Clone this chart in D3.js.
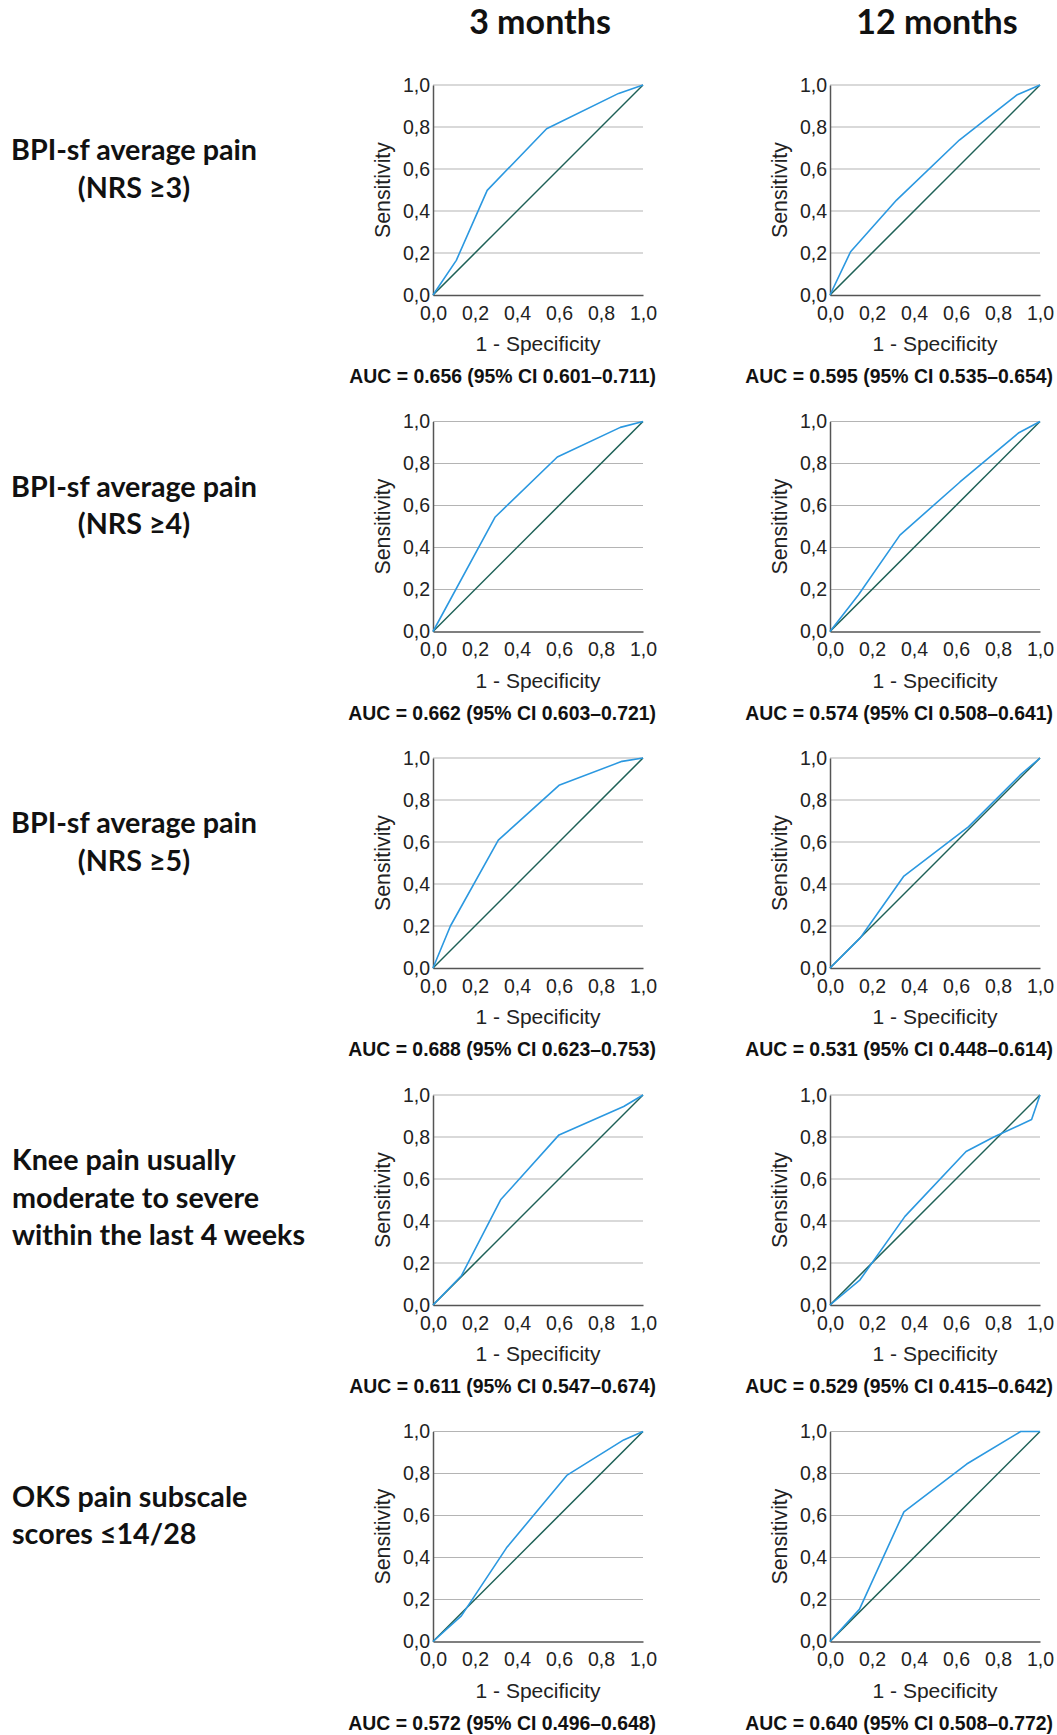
<!DOCTYPE html>
<html>
<head>
<meta charset="utf-8">
<script src="https://cdn.jsdelivr.net/npm/d3@7"></script>
<style>
  body { margin: 0; background: #fff; }
</style>
</head>
<body>
<div class="chart-container"></div>
<script>
const periods = ["3 months", "12 months"];
const rowLabels = [
    ["BPI-sf average pain", "(NRS ≥3)"],
    ["BPI-sf average pain", "(NRS ≥4)"],
    ["BPI-sf average pain", "(NRS ≥5)"],
    ["Knee pain usually", "moderate to severe", "within the last 4 weeks"],
    ["OKS pain subscale", "scores ≤14/28"]
];

// ROC points as [1 - specificity, sensitivity]
const roc3m = [
    [[0, 0], [0.111, 0.165], [0.258, 0.498], [0.541, 0.792], [0.884, 0.960], [1, 1]],
    [[0, 0], [0.295, 0.544], [0.592, 0.831], [0.892, 0.972], [1, 1]],
    [[0, 0], [0.083, 0.200], [0.311, 0.609], [0.600, 0.870], [0.900, 0.984], [1, 1]],
    [[0, 0], [0.135, 0.139], [0.322, 0.501], [0.600, 0.810], [0.908, 0.945], [1, 1]],
    [[0, 0], [0.135, 0.122], [0.350, 0.446], [0.637, 0.791], [0.908, 0.960], [1, 1]]
];
const roc12m = [
    [[0, 0], [0.098, 0.206], [0.317, 0.452], [0.616, 0.738], [0.889, 0.952], [1, 1]],
    [[0, 0], [0.135, 0.174], [0.333, 0.459], [0.619, 0.712], [0.897, 0.945], [1, 1]],
    [[0, 0], [0.143, 0.142], [0.352, 0.438], [0.659, 0.672], [0.905, 0.918], [1, 1]],
    [[0, 0], [0.143, 0.120], [0.357, 0.422], [0.648, 0.731], [0.780, 0.800], [0.960, 0.883], [1, 1]],
    [[0, 0], [0.140, 0.153], [0.352, 0.617], [0.651, 0.845], [0.908, 1.0], [1, 1]]
];
const diagonal = [[0, 0], [1, 1]];

const auc3m = [0.656, 0.662, 0.688, 0.611, 0.572];
const ciLow3m = [0.601, 0.603, 0.623, 0.547, 0.496];
const ciHigh3m = [0.711, 0.721, 0.753, 0.674, 0.648];
const auc12m = [0.595, 0.574, 0.531, 0.529, 0.640];
const ciLow12m = [0.535, 0.508, 0.448, 0.415, 0.508];
const ciHigh12m = [0.654, 0.641, 0.614, 0.642, 0.772];

const axisTicks = [0, 0.2, 0.4, 0.6, 0.8, 1.0];
const xTitle = "1 - Specificity";
const yTitle = "Sensitivity";

// layout
const W = 1057, H = 1735;
const plotSize = 210;
const colLeft = [433, 830];
const rowTop = [85, 421.5, 758, 1095, 1431.5];
const centeredRows = [0, 1, 2];

const rocColor = "#2b98e0";
const diagColor = "#1e6157";
const gridColor = "#b4b4b4";
const axisColor = "#555";
const plotFont = "'Liberation Sans', Arial, sans-serif";
const labelFont = "Lato, 'Open Sans', sans-serif";

const commaLocale = d3.formatLocale({decimal: ",", thousands: ".", grouping: [3], currency: ["", ""]});
const tickFmt = commaLocale.format(".1f");
const f3 = d3.format(".3f");

const svg = d3.select(".chart-container")
    .append("svg")
    .attr("width", W)
    .attr("height", H)
    .style("background", "#fff");

// column headings
svg.selectAll("text.period")
    .data(periods)
    .enter()
    .append("text")
    .attr("class", "period")
    .attr("x", (d, i) => colLeft[i] + plotSize / 2 + 2)
    .attr("y", 34)
    .attr("text-anchor", "middle")
    .style("font-family", labelFont)
    .style("font-weight", 700)
    .style("font-size", "34px")
    .style("fill", "#111")
    .text(d => d);

// row labels
rowLabels.forEach((lines, r) => {
    const centered = centeredRows.includes(r);
    const t = svg.append("text")
        .attr("x", centered ? 134 : 12)
        .attr("y", rowTop[r] + 75)
        .attr("text-anchor", centered ? "middle" : "start")
        .style("font-family", labelFont)
        .style("font-weight", 700)
        .style("font-size", "28.7px")
        .style("fill", "#111");
    t.selectAll("tspan")
        .data(lines)
        .enter()
        .append("tspan")
        .attr("x", centered ? 134 : 12)
        .attr("dy", (d, i) => i === 0 ? 0 : 37.7)
        .text(d => d);
});

const x = d3.scaleLinear().domain([0, 1]).range([0, plotSize]);
const y = d3.scaleLinear().domain([0, 1]).range([plotSize, 0]);
const line = d3.line().x(d => x(d[0])).y(d => y(d[1]));

function drawPanel(c, r, curve, auc, lo, hi) {
    const g = svg.append("g")
        .attr("transform", "translate(" + colLeft[c] + "," + rowTop[r] + ")");

    g.selectAll("line.grid")
        .data(axisTicks.filter(t => t > 0))
        .enter()
        .append("line")
        .attr("class", "grid")
        .attr("x1", 0)
        .attr("x2", plotSize)
        .attr("y1", d => y(d))
        .attr("y2", d => y(d))
        .attr("stroke", gridColor)
        .attr("stroke-width", 1.2);

    const yAxis = g.append("g")
        .call(d3.axisLeft(y).tickValues(axisTicks).tickSize(0).tickSizeOuter(0).tickPadding(3).tickFormat(tickFmt));
    const xAxis = g.append("g")
        .attr("transform", "translate(0," + plotSize + ")")
        .call(d3.axisBottom(x).tickValues(axisTicks).tickSize(0).tickSizeOuter(0).tickPadding(11).tickFormat(tickFmt));

    [yAxis, xAxis].forEach(a => {
        a.select(".domain").attr("stroke", axisColor).attr("stroke-width", 1.5);
        a.selectAll("text")
            .style("font-family", plotFont)
            .style("font-size", "19.5px")
            .style("fill", "#222");
    });

    g.append("path")
        .datum(diagonal)
        .attr("d", line)
        .attr("fill", "none")
        .attr("stroke", diagColor)
        .attr("stroke-width", 1.5);

    g.append("path")
        .datum(curve)
        .attr("d", line)
        .attr("fill", "none")
        .attr("stroke", rocColor)
        .attr("stroke-width", 1.6)
        .attr("stroke-linejoin", "round");

    g.append("text")
        .attr("transform", "translate(-43," + plotSize / 2 + ") rotate(-90)")
        .attr("text-anchor", "middle")
        .style("font-family", plotFont)
        .style("font-size", "21.3px")
        .style("fill", "#222")
        .text(yTitle);

    g.append("text")
        .attr("x", plotSize / 2)
        .attr("y", plotSize + 56)
        .attr("text-anchor", "middle")
        .style("font-family", plotFont)
        .style("font-size", "21px")
        .style("fill", "#222")
        .text(xTitle);

    g.append("text")
        .attr("x", plotSize + 13)
        .attr("y", plotSize + 88)
        .attr("text-anchor", "end")
        .style("font-family", plotFont)
        .style("font-weight", 700)
        .style("font-size", "19.4px")
        .style("fill", "#111")
        .text("AUC = " + f3(auc) + " (95% CI " + f3(lo) + "–" + f3(hi) + ")");
}

for (let r = 0; r < rowLabels.length; r++) {
    drawPanel(0, r, roc3m[r], auc3m[r], ciLow3m[r], ciHigh3m[r]);
    drawPanel(1, r, roc12m[r], auc12m[r], ciLow12m[r], ciHigh12m[r]);
}
</script>
</body>
</html>
